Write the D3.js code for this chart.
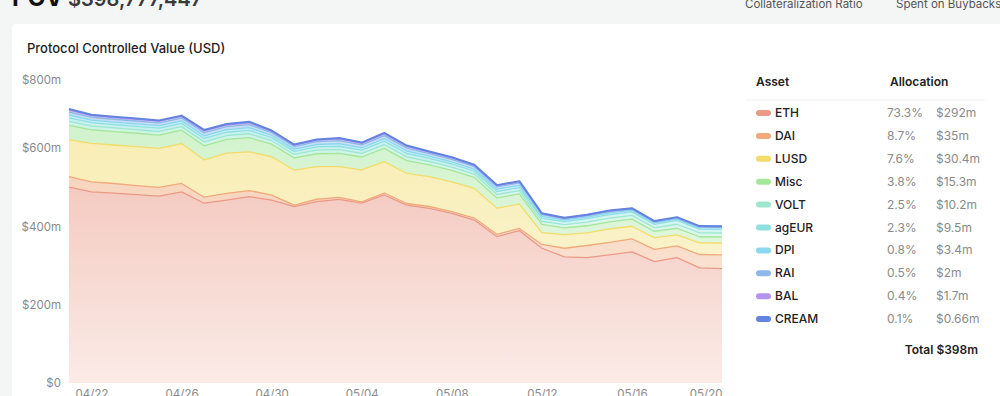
<!DOCTYPE html>
<html>
<head>
<meta charset="utf-8">
<script src="https://cdn.jsdelivr.net/npm/d3@7"></script>
<style>
  body { margin: 0; background: #f4f5f5; font-family: Inter, Roboto, "Noto Sans", sans-serif; overflow: hidden; }
  svg { display: block; }
</style>
</head>
<body>
<svg id="chart" width="1000" height="396"></svg>
<script>
// ---- data ----
const dates = [
  "2022-04-21","2022-04-22","2022-04-23","2022-04-24","2022-04-25","2022-04-26","2022-04-27","2022-04-28",
  "2022-04-29","2022-04-30","2022-05-01","2022-05-02","2022-05-03","2022-05-04","2022-05-05","2022-05-06",
  "2022-05-07","2022-05-08","2022-05-09","2022-05-10","2022-05-11","2022-05-12","2022-05-13","2022-05-14",
  "2022-05-15","2022-05-16","2022-05-17","2022-05-18","2022-05-19","2022-05-20"
];
const assets = ["ETH", "DAI", "LUSD", "Misc", "VOLT", "agEUR", "DPI", "RAI", "BAL", "CREAM"];
const assetColors = ["#ea9a87", "#f0aa7c", "#f2dc6a", "#a4e69a", "#9ce8cf", "#8fe0e0", "#8ad8ef", "#8cb8ea", "#b394f0", "#6383e0"];

// values in $m
const ethValues   = [500, 488, 485, 481, 477, 488, 459, 467, 476, 467, 450, 463, 469, 459, 480, 454, 446, 433, 416, 374, 389, 344, 322, 320, 327, 335, 310, 320, 294, 292];
const daiValues   = [27, 25.5, 24.3, 23, 22.2, 21.4, 15.3, 17.1, 15.3, 12.8, 4.3, 6.1, 5.1, 3.3, 5.1, 4.3, 4.6, 4.6, 5.1, 5.6, 5.6, 9.7, 22, 31, 32, 33, 31, 30, 34, 35];
const lusdValues  = [93.7, 98, 98.3, 99.6, 99.6, 102, 95.2, 102.9, 99, 97.8, 89.4, 83.2, 78.1, 81.7, 79.9, 76.6, 76.1, 76.1, 75.8, 66.9, 62, 30, 35, 32.4, 34.2, 32.2, 29.9, 28.1, 29.9, 30.4];
const miscValues  = [37, 35, 34, 34, 34, 34, 36, 35, 36, 32, 31, 33, 34, 33, 34, 33, 30, 29, 28, 26, 26, 21, 17, 18, 18, 18, 16, 17, 15.5, 15.3];
const voltValues  = [10, 9.5, 9.5, 9.3, 9.3, 9.2, 10, 9.6, 10, 9, 8.8, 9.2, 9.6, 9.2, 9.8, 9.5, 8.8, 8.7, 8.4, 8.6, 8.6, 8.2, 8.5, 9.5, 9.8, 9.6, 9.4, 10.2, 10, 10.2];
const ageurValues = [9, 8.6, 8.5, 8.4, 8.4, 8.3, 8.9, 8.6, 8.9, 7.9, 7.7, 8.2, 8.6, 8.2, 8.7, 8.5, 7.8, 7.7, 7.4, 7.8, 7.8, 7.6, 7.8, 8.8, 9.2, 9, 8.8, 9.6, 9.4, 9.5];
const dpiValues   = [7, 6.5, 6.5, 6.4, 6.4, 6.3, 6.8, 6.6, 6.8, 6, 5.8, 6.2, 6.6, 6.2, 6.6, 6.4, 5.8, 5.6, 5.4, 5.8, 5.8, 4.8, 3.9, 4, 4, 3.8, 3.5, 3.6, 3.4, 3.4];
const raiValues   = [8, 7.4, 7.3, 7.2, 7.2, 7.2, 7.8, 7.5, 7.8, 6.8, 6.6, 7.1, 7.6, 7.1, 7.6, 7.4, 6.6, 6.4, 6.1, 6, 6, 4.5, 3, 3.1, 3.2, 3, 2.4, 2.4, 2, 2];
const balValues   = [5, 4.4, 4.4, 4.3, 4.3, 4.2, 4.6, 4.4, 4.6, 3.8, 3.7, 4.1, 4.5, 4.1, 4.5, 4.3, 3.7, 3.6, 3.5, 3.3, 3.3, 2.6, 2, 2.1, 2.1, 2, 1.8, 1.9, 1.7, 1.7];
const creamValues = [3, 2.1, 2.1, 2, 2, 2, 2.5, 2.3, 2.5, 1.5, 1.5, 1.6, 2.3, 2, 2.3, 2.1, 1.5, 1.5, 1.4, 1.2, 1.2, 1, 0.7, 0.7, 0.7, 0.7, 0.66, 0.66, 0.66, 0.66];

const allocationPct = ["73.3%", "8.7%", "7.6%", "3.8%", "2.5%", "2.3%", "0.8%", "0.5%", "0.4%", "0.1%"];
const allocationUsd = ["$292m", "$35m", "$30.4m", "$15.3m", "$10.2m", "$9.5m", "$3.4m", "$2m", "$1.7m", "$0.66m"];
const totalLabel = "Total $398m";

const yTicks = [0, 200, 400, 600, 800];
const xTickDates = ["2022-04-22", "2022-04-26", "2022-04-30", "2022-05-04", "2022-05-08", "2022-05-12", "2022-05-16", "2022-05-20"];

// ---- build table for the stack ----
const seriesValues = [ethValues, daiValues, lusdValues, miscValues, voltValues, ageurValues, dpiValues, raiValues, balValues, creamValues];
const parseDate = d3.timeParse("%Y-%m-%d");
const rows = dates.map((d, i) => {
  const row = { date: parseDate(d) };
  assets.forEach((a, j) => { row[a] = seriesValues[j][i]; });
  return row;
});

const svg = d3.select("#chart");

// header (cut off at top, as in the screenshot)
svg.append("text")
    .attr("x", 12).attr("y", 6)
    .style("font-size", "24px").style("font-weight", 700).style("fill", "#111")
    .text("PCV");
svg.append("text")
    .attr("x", 68).attr("y", 6)
    .style("font-size", "20px").style("font-weight", 600).style("fill", "#3a3a3a")
    .text("$398,777,447");
svg.append("text")
    .attr("x", 745).attr("y", 8)
    .style("font-size", "11.5px").style("fill", "#555")
    .text("Collateralization Ratio");
svg.append("text")
    .attr("x", 896).attr("y", 8)
    .style("font-size", "11.5px").style("fill", "#555")
    .text("Spent on Buybacks");

// card
svg.append("rect")
    .attr("x", 12).attr("y", 24)
    .attr("width", 1000).attr("height", 420)
    .attr("rx", 4)
    .attr("fill", "#fff");

svg.append("text")
    .attr("x", 27).attr("y", 53)
    .style("font-size", "13px").style("font-weight", 500).style("fill", "#1e1e1e")
    .text("Protocol Controlled Value (USD)");

// ---- chart ----
const plotLeft = 69, plotRight = 722, plotBottom = 383;

const xScale = d3.scaleTime()
    .domain(d3.extent(rows, d => d.date))
    .range([plotLeft, plotRight]);

const yScale = d3.scaleLinear()
    .domain([0, 800])
    .range([plotBottom, plotBottom - 800 * 0.3917]);

const stack = d3.stack().keys(assets);
const layers = stack(rows);

const defs = svg.append("defs");
assets.forEach((a, j) => {
  const grad = defs.append("linearGradient")
      .attr("id", `grad-${j}`)
      .attr("x1", 0).attr("y1", 0).attr("x2", 0).attr("y2", 1);
  grad.append("stop").attr("offset", "0%")
      .attr("stop-color", assetColors[j]).attr("stop-opacity", j === 0 ? 0.52 : 0.5);
  grad.append("stop").attr("offset", "100%")
      .attr("stop-color", assetColors[j]).attr("stop-opacity", j === 0 ? 0.2 : 0.36);
});

const area = d3.area()
    .x(d => xScale(d.data.date))
    .y0(d => yScale(d[0]))
    .y1(d => yScale(d[1]));

const topLine = d3.line()
    .x(d => xScale(d.data.date))
    .y(d => yScale(d[1]));

const chartGroup = svg.append("g");

chartGroup.selectAll("path.layer")
    .data(layers)
    .enter()
    .append("path")
    .attr("class", "layer")
    .attr("d", area)
    .attr("fill", (d, j) => `url(#grad-${j})`);

chartGroup.selectAll("path.edge")
    .data(layers)
    .enter()
    .append("path")
    .attr("class", "edge")
    .attr("d", topLine)
    .attr("fill", "none")
    .attr("stroke", (d, j) => assetColors[j])
    .attr("stroke-width", (d, j) => j === assets.length - 1 ? 2 : 1.3)
    .attr("stroke-linejoin", "round");

// y axis labels
const yAxisGroup = svg.append("g")
    .attr("transform", `translate(${plotLeft - 8},0)`)
    .call(d3.axisLeft(yScale)
        .tickValues(yTicks)
        .tickSize(0)
        .tickFormat(d => d === 0 ? "$0" : `$${d}m`));
yAxisGroup.select(".domain").remove();
yAxisGroup.selectAll("text")
    .attr("x", 0)
    .attr("transform", d => {
      const y = yScale(d);
      return y < 80 ? `translate(0,${80 - y})` : null;
    })
    .style("font-family", "Inter, Roboto, sans-serif")
    .style("font-size", "11.5px")
    .style("fill", "#8a8a8a");

// x axis labels
const xAxisGroup = svg.append("g")
    .attr("transform", `translate(0,${plotBottom})`)
    .call(d3.axisBottom(xScale)
        .tickValues(xTickDates.map(parseDate))
        .tickSize(0)
        .tickFormat(d3.timeFormat("%m/%d")));
xAxisGroup.select(".domain").remove();
xAxisGroup.selectAll("text")
    .attr("y", 7)
    .style("font-family", "Inter, Roboto, sans-serif")
    .style("font-size", "11.5px")
    .style("fill", "#8a8a8a")
    .style("text-anchor", (d, i, nodes) => i === nodes.length - 1 ? "end" : "middle");

// ---- allocation table ----
const table = svg.append("g");
table.append("text")
    .attr("x", 756).attr("y", 86)
    .style("font-size", "12px").style("font-weight", 600).style("fill", "#222")
    .text("Asset");
table.append("text")
    .attr("x", 890).attr("y", 86)
    .style("font-size", "12px").style("font-weight", 600).style("fill", "#222")
    .text("Allocation");
table.append("line")
    .attr("x1", 745).attr("x2", 985)
    .attr("y1", 100).attr("y2", 100)
    .attr("stroke", "#f0f0f0");

const rowStep = 22.9;
const tableRows = table.selectAll("g.row")
    .data(assets)
    .enter()
    .append("g")
    .attr("class", "row")
    .attr("transform", (d, i) => `translate(0,${113 + i * rowStep})`);

tableRows.append("rect")
    .attr("x", 756).attr("y", -3)
    .attr("width", 15).attr("height", 6)
    .attr("rx", 3)
    .attr("fill", (d, i) => assetColors[i]);

tableRows.append("text")
    .attr("x", 775).attr("y", 4)
    .style("font-size", "12px").style("font-weight", 500).style("fill", "#222")
    .text(d => d);

tableRows.append("text")
    .attr("x", 887).attr("y", 4)
    .style("font-size", "12px").style("fill", "#8a8a8a")
    .text((d, i) => allocationPct[i]);

tableRows.append("text")
    .attr("x", 936).attr("y", 4)
    .style("font-size", "12px").style("fill", "#8a8a8a")
    .text((d, i) => allocationUsd[i]);

table.append("text")
    .attr("x", 978).attr("y", 354)
    .attr("text-anchor", "end")
    .style("font-size", "12px").style("font-weight", 600).style("fill", "#222")
    .text(totalLabel);
</script>
</body>
</html>
